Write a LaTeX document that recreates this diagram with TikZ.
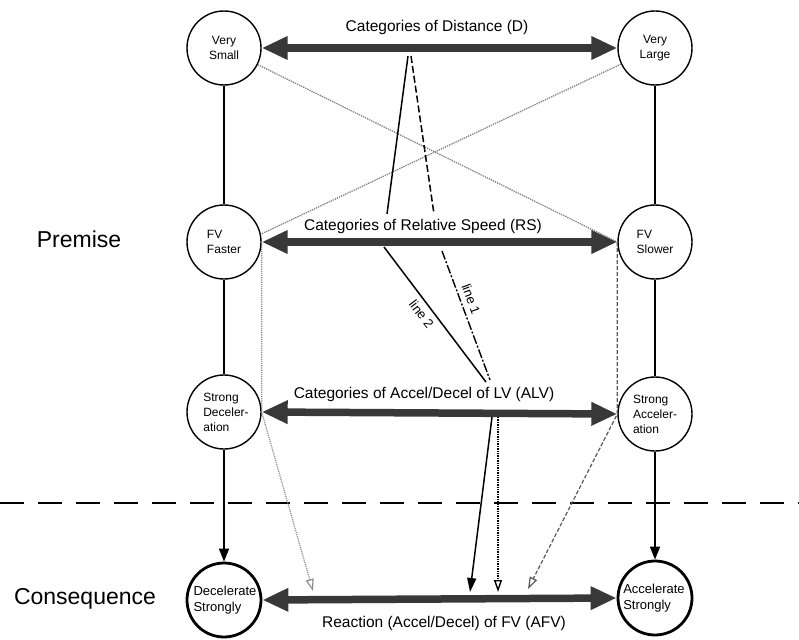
\documentclass[tikz,border=0pt]{standalone}
\usepackage{fontspec}
\setmainfont{Liberation Sans}
\usetikzlibrary{arrows.meta}
\begin{document}
\begin{tikzpicture}[x=1pt,y=-1pt,
  st/.style={circle,draw,line width=1.4pt,minimum size=74pt,inner sep=0pt},
  cs/.style={circle,draw,line width=2.8pt,minimum size=74pt,inner sep=0pt},
  ctext/.style={align=left,font=\fontsize{12}{15}\selectfont,inner sep=0pt},
  cbtext/.style={align=left,font=\fontsize{13}{16}\selectfont,inner sep=0pt},
  big/.style={line width=7.5pt,draw=black!78,{Triangle[length=26pt,width=22pt]}-{Triangle[length=26pt,width=22pt]}},
  cat/.style={font=\fontsize{15.5}{18}\selectfont,inner sep=1pt},
  side/.style={font=\fontsize{23}{26}\selectfont},
  vline/.style={line width=1.6pt,draw=black},
  vtip/.style={-{Triangle[length=13pt,width=10pt]}},
  sepline/.style={line width=1.4pt,dash pattern=on 24pt off 14pt},
  gline/.style={line width=1.3pt,draw=black!50,densely dotted},
  lgline/.style={line width=1.2pt,draw=black!45,densely dotted,-{Triangle[open,length=12pt,width=8pt]}},
  dgline/.style={line width=1.2pt,draw=black!65,dash pattern=on 4pt off 2pt,-{Triangle[open,length=12pt,width=8pt]}},
  ltwo/.style={line width=1.5pt,draw=black},
  lone/.style={line width=1.5pt,draw=black,dash pattern=on 7pt off 3pt},
  lonelow/.style={line width=1.4pt,draw=black,dash pattern=on 9pt off 2pt on 2pt off 2pt},
  lonebot/.style={line width=1.4pt,draw=black,densely dotted},
  lbl/.style={font=\fontsize{13}{15}\selectfont,inner sep=1pt}
]
\useasboundingbox (0,0) rectangle (799,639);

% circles
\node[st] (VS) at (224,48) {};
\node[st] (VL) at (655,48) {};
\node[st] (FVF) at (224,242) {};
\node[st] (FVS) at (655,242) {};
\node[st] (SD) at (224,412) {};
\node[st] (SA) at (655,414) {};
\node[cs] (DS) at (224,600) {};
\node[cs] (AS) at (655,598) {};

\node[ctext,align=center] (VSt) at (VS) {Very\\Small};
\node[ctext,align=center] (VLt) at (VL) {Very\\Large};
\node[ctext] (FVFt) at (FVF) {FV\\Faster};
\node[ctext] (FVSt) at (FVS) {FV\\Slower};
\node[ctext] (SDt) at (226,412) {Strong\\Deceler-\\ation};
\node[ctext] (SAt) at (655,414) {Strong\\Acceler-\\ation};
\node[cbtext] (DSt) at (225,600) {Decelerate\\Strongly};
\node[cbtext] (ASt) at (654,598) {Accelerate\\Strongly};

% side labels
\node[side] (pre) at (79,239) {Premise};
\node[side] (con) at (85,599) {Consequence};

% category labels
\node[cat] (lD) at (437,27) {Categories of Distance (D)};
\node[cat] (lRS) at (423,226) {Categories of Relative Speed (RS)};
\node[cat] (lALV) at (424,394) {Categories of Accel/Decel of LV (ALV)};
\node[cat] (lAFV) at (444,623) {Reaction (Accel/Decel) of FV (AFV)};

% vertical connectors
\draw[vline] (VS) -- (FVF);
\draw[vline] (VL) -- (FVS);
\draw[vline] (FVF) -- (SD);
\draw[vline] (FVS) -- (SA);
\draw[vline,vtip] (SD) -- (DS);
\draw[vline,vtip] (SA) -- (AS);

% separator
\coordinate (sepL) at (0,503);
\coordinate (sepR) at (799,503);
\draw[sepline] (sepL) -- (sepR);

% gray diagonals
\draw[gline] (VS) -- (FVS.west);
\draw[gline] (VL) -- (FVF.12);

% rule paths
\coordinate (pL) at (313,591);
\coordinate (pR) at (528,589);
\draw[lgline] (FVF.east) -- (SD.east) -- (pL);
\draw[dgline] (FVS.west) -- (SA.west) -- (pR);

% line 1 / line 2
\coordinate (a2) at (408,56);
\coordinate (b2) at (387,214);
\coordinate (c2) at (384,247);
\coordinate (d2) at (486,382);
\coordinate (e2) at (492,417);
\coordinate (f2) at (470,592);
\coordinate (a1) at (411,56);
\coordinate (b1) at (434,214);
\coordinate (c1) at (442,251);
\coordinate (d1) at (490,380);
\coordinate (e1) at (498,417);
\coordinate (f1) at (498,592);

\draw[ltwo] (a2) -- (b2);
\draw[ltwo] (c2) -- (d2) node[lbl,pos=0.45,sloped,below=4pt] (l2t) {line 2};
\draw[ltwo,-{Triangle[length=14pt,width=9pt]}] (e2) -- (f2);
\draw[lone] (a1) -- (b1);
\draw[lonelow] (c1) -- (d1) node[lbl,pos=0.4,sloped,above=4pt] (l1t) {line 1};
\draw[lonebot,-{Triangle[open,length=12pt,width=8pt]}] (e1) -- (f1);

% big double arrows
\draw[big] (VS.east) -- (VL.west);
\draw[big] (FVF.east) -- (FVS.west);
\draw[big] (SD.east) -- (SA.west);
\draw[big] (DS.east) -- (AS.west);
\end{tikzpicture}
\end{document}
